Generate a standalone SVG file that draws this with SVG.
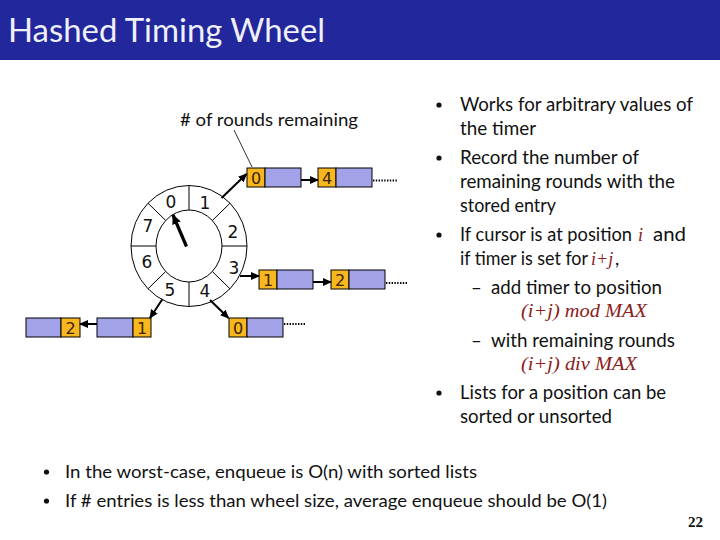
<svg xmlns="http://www.w3.org/2000/svg" width="720" height="540" viewBox="0 0 720 540">
<defs>
<style>
.t{font-family:Lato,"Liberation Sans",sans-serif;fill:#111;}
.b{font-size:18.5px;}
.m{font-family:"Liberation Serif",serif;font-style:italic;font-size:19px;fill:#8b2020;}
.d{font-family:"DejaVu Sans",Verdana,sans-serif;font-size:17px;fill:#111;text-anchor:middle;}
.bd{font-family:"DejaVu Sans",Verdana,sans-serif;font-size:16px;fill:#3a2400;text-anchor:middle;}
.or{fill:#f8b71e;stroke:#000;stroke-width:1;}
.lv{fill:#a2a2e8;stroke:#000;stroke-width:1;}
.ar{stroke:#000;stroke-width:2;fill:none;marker-end:url(#ah);}
.dot{stroke:#000;stroke-width:2;stroke-dasharray:1.4 1.4;fill:none;}
.wl{stroke:#000;stroke-width:1;fill:none;}
</style>
<marker id="ah" markerWidth="9" markerHeight="8" refX="8" refY="4" orient="auto" markerUnits="userSpaceOnUse">
<path d="M0,0 L9,4 L0,8 Z" fill="#000"/>
</marker>
<marker id="hh" markerWidth="10" markerHeight="9" refX="9" refY="4.5" orient="auto" markerUnits="userSpaceOnUse">
<path d="M0,0 L10,4.5 L0,9 Z" fill="#000"/>
</marker>
</defs>
<rect x="0" y="0" width="720" height="540" fill="#fff"/>
<g id="header">
<rect x="0" y="0" width="720" height="60" fill="#22279b"/>
<text x="8" y="42" class="t" style="fill:#eef0fa;font-size:32px" textLength="317" lengthAdjust="spacingAndGlyphs">Hashed Timing Wheel</text>
</g>
<g id="rounds-label">
<text x="180" y="126" class="t" style="font-size:17px" textLength="178" lengthAdjust="spacingAndGlyphs"># of rounds remaining</text>
</g>
<g id="wheel">
<ellipse cx="189" cy="246" rx="58" ry="60.5" class="wl"/>
<ellipse cx="189" cy="246" rx="33" ry="36" class="wl"/>
<line x1="189" y1="185.5" x2="189" y2="210" class="wl"/>
<line x1="189" y1="282" x2="189" y2="306.5" class="wl"/>
<line x1="131" y1="246" x2="156" y2="246" class="wl"/>
<line x1="222" y1="246" x2="247" y2="246" class="wl"/>
<line x1="148" y1="203.2" x2="165.7" y2="220.5" class="wl"/>
<line x1="230" y1="203.2" x2="212.3" y2="220.5" class="wl"/>
<line x1="148" y1="288.8" x2="165.7" y2="271.5" class="wl"/>
<line x1="230" y1="288.8" x2="212.3" y2="271.5" class="wl"/>
<text x="171" y="208" class="d">0</text>
<text x="205" y="209" class="d">1</text>
<text x="233" y="238" class="d">2</text>
<text x="234" y="274" class="d">3</text>
<text x="205" y="297" class="d">4</text>
<text x="170" y="296" class="d">5</text>
<text x="147" y="268" class="d">6</text>
<text x="148" y="232" class="d">7</text>
<line x1="186.5" y1="246.5" x2="173" y2="215" stroke="#000" stroke-width="3.2" marker-end="url(#hh)"/>
</g>
<g id="node-top-0">
<rect x="247" y="168" width="18" height="19" class="or"/>
<rect x="265" y="168" width="36" height="19" class="lv"/>
<text x="256" y="184" class="bd">0</text>
</g>
<g id="node-top-4">
<rect x="318" y="168" width="18" height="19" class="or"/>
<rect x="336" y="168" width="36" height="19" class="lv"/>
<text x="327" y="184" class="bd">4</text>
<line x1="373" y1="180.5" x2="397" y2="180.5" class="dot"/>
</g>
<g id="node-mid-1">
<rect x="259" y="270" width="18" height="19" class="or"/>
<rect x="277" y="270" width="36" height="19" class="lv"/>
<text x="268" y="286" class="bd">1</text>
</g>
<g id="node-mid-2">
<rect x="331" y="270" width="18" height="19" class="or"/>
<rect x="349" y="270" width="36" height="19" class="lv"/>
<text x="340" y="286" class="bd">2</text>
<line x1="386" y1="283" x2="407" y2="283" class="dot"/>
</g>
<g id="node-bot-0">
<rect x="229" y="318" width="18" height="19" class="or"/>
<rect x="247" y="318" width="36" height="19" class="lv"/>
<text x="238" y="334" class="bd">0</text>
<line x1="284" y1="324" x2="306" y2="324" class="dot"/>
</g>
<g id="node-bot-1">
<rect x="97" y="318" width="36" height="19" class="lv"/>
<rect x="133" y="318" width="18" height="19" class="or"/>
<text x="142" y="334" class="bd">1</text>
</g>
<g id="node-bot-2">
<rect x="26" y="318" width="35" height="19" class="lv"/>
<rect x="61" y="318" width="19" height="19" class="or"/>
<text x="70.5" y="334" class="bd">2</text>
</g>
<g id="connectors">
<line x1="221.5" y1="198" x2="246.5" y2="174" class="ar"/>
<line x1="301" y1="180" x2="318" y2="180" class="ar"/>
<line x1="240" y1="276" x2="259" y2="276" class="ar"/>
<line x1="313" y1="282" x2="331" y2="282" class="ar"/>
<line x1="210" y1="300" x2="228.5" y2="318" class="ar"/>
<line x1="162.5" y1="299" x2="150" y2="318" class="ar"/>
<line x1="97" y1="324" x2="80" y2="324" class="ar"/>
<line x1="234" y1="130" x2="252" y2="167" stroke="#000" stroke-width="0.8"/>
</g>
<g id="bullets-right" class="t b">
<circle cx="439" cy="105" r="2.6" fill="#111"/>
<circle cx="439" cy="158" r="2.6" fill="#111"/>
<circle cx="439" cy="235" r="2.6" fill="#111"/>
<circle cx="439" cy="393" r="2.6" fill="#111"/>
<text x="460" y="111" textLength="233" lengthAdjust="spacingAndGlyphs">Works for arbitrary values of</text>
<text x="460" y="135" textLength="76" lengthAdjust="spacingAndGlyphs">the timer</text>
<text x="460" y="164" textLength="179" lengthAdjust="spacingAndGlyphs">Record the number of</text>
<text x="460" y="188" textLength="215" lengthAdjust="spacingAndGlyphs">remaining rounds with the</text>
<text x="460" y="212" textLength="96" lengthAdjust="spacingAndGlyphs">stored entry</text>
<text y="241"><tspan x="460" textLength="172" lengthAdjust="spacingAndGlyphs">If cursor is at  position</tspan><tspan x="638" class="m" style="font-size:18px">i</tspan><tspan x="653" textLength="33" lengthAdjust="spacingAndGlyphs">and</tspan></text>
<text y="265"><tspan x="460" textLength="128" lengthAdjust="spacingAndGlyphs">if timer  is set for</tspan><tspan x="591" class="m" style="font-size:18px">i+j</tspan><tspan x="615">,</tspan></text>
<text x="471" y="294">–</text>
<text x="491" y="294" textLength="171" lengthAdjust="spacingAndGlyphs">add timer to position</text>
<text x="521" y="317" class="m" textLength="126" lengthAdjust="spacingAndGlyphs">(i+j) mod MAX</text>
<text x="471" y="347">–</text>
<text x="491" y="347" textLength="184" lengthAdjust="spacingAndGlyphs">with remaining rounds</text>
<text x="521" y="370" class="m" textLength="116" lengthAdjust="spacingAndGlyphs">(i+j) div MAX</text>
<text x="460" y="399" textLength="206" lengthAdjust="spacingAndGlyphs">Lists for a position can be</text>
<text x="460" y="423" textLength="152" lengthAdjust="spacingAndGlyphs">sorted or unsorted</text>
</g>
<g id="bullets-bottom" class="t" style="font-size:18px">
<circle cx="46.5" cy="472" r="2.6" fill="#111"/>
<circle cx="46.5" cy="501" r="2.6" fill="#111"/>
<text x="65" y="478" textLength="412" lengthAdjust="spacingAndGlyphs">In the worst-case, enqueue is O(n) with sorted lists</text>
<text x="65" y="507" textLength="542" lengthAdjust="spacingAndGlyphs">If # entries is less than wheel size, average enqueue should be O(1)</text>
</g>
<g id="page-number">
<text x="688" y="527" style="font-family:'Liberation Serif',serif;font-size:14px;font-weight:bold;fill:#111" textLength="15" lengthAdjust="spacingAndGlyphs">22</text>
</g>
</svg>
